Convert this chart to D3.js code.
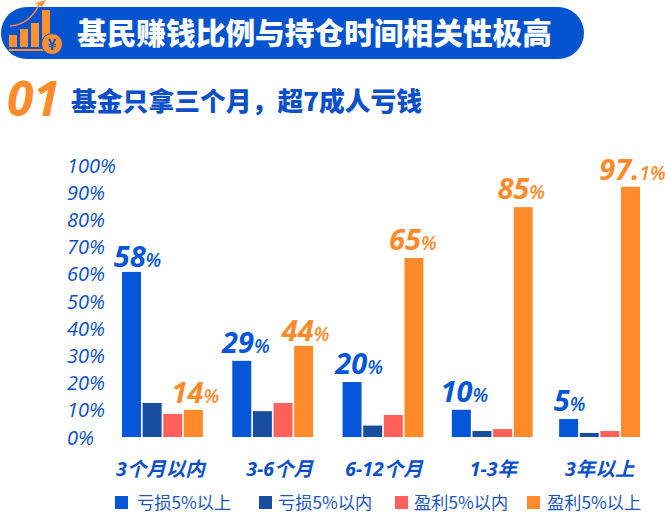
<!DOCTYPE html>
<html><head><meta charset="utf-8">
<script src="https://cdn.jsdelivr.net/npm/d3@7"></script>
<style>
html,body{margin:0;padding:0;background:#fff;overflow:hidden}
svg{display:block}
text{font-family:"Open Sans","Noto Sans CJK SC",sans-serif}
.cjk{font-family:"Noto Sans CJK SC",sans-serif}
</style></head><body><div id="c"></div>
<script>
const titleText = "基民赚钱比例与持仓时间相关性极高";
const subtitleNo = "01";
const subtitleText = "基金只拿三个月，超7成人亏钱";
const categories = ["3个月以内","3-6个月","6-12个月","1-3年","3年以上"];
const seriesNames = ["亏损5%以上","亏损5%以内","盈利5%以内","盈利5%以上"];
const loss5Plus  = [60.7,28,20.2,10,6.6];
const loss5Minus = [12.5,9.5,4.2,2.2,1.5];
const gain5Minus = [8.5,12.5,8.1,2.9,2.2];
const gain5Plus  = [10,33.5,65.8,84.5,92];
const blueLabels   = ["58","29","20","10","5"];
const orangeLabels = ["14","44","65","85","97.1"];
const yTicks = [0,10,20,30,40,50,60,70,80,90,100];

const seriesValues = [loss5Plus,loss5Minus,gain5Minus,gain5Plus];
const colors = ["#0556d8","#174ea0","#ff615a","#ff8a2a"];
const BLUE="#0b50c8", ORANGE="#ff8a2a";

const svg=d3.select("#c").append("svg").attr("width",665).attr("height",520);

// header banner
svg.append("rect").attr("x",1).attr("y",7).attr("width",583).attr("height",52).attr("rx",26).attr("fill","#0653cf");
const ic=svg.append("g");
[[9,35,12],[20,29,18],[31,23,24],[42,10,34]].forEach(([x,y,h])=>ic.append("rect").attr("x",x).attr("y",y).attr("width",8).attr("height",h).attr("fill","#ff9030"));
ic.append("rect").attr("x",9).attr("y",49).attr("width",35).attr("height",2).attr("fill","#ff9030");
ic.append("path").attr("d","M10 26 C25 25 34 16 40 3").attr("fill","none").attr("stroke","#ff9030").attr("stroke-width",1.5);
ic.append("path").attr("d","M35 3 L46 0 L42 7 Z").attr("fill","#ff9030");
ic.append("circle").attr("cx",52).attr("cy",44).attr("r",10.5).attr("fill","#ff9030").attr("stroke","#0653cf").attr("stroke-width",1);
ic.append("text").attr("class","cjk").attr("x",52).attr("y",50).attr("text-anchor","middle").attr("font-size",15).attr("font-weight",700).attr("fill","#0653cf").text("¥");
svg.append("text").attr("class","cjk").attr("x",77).attr("y",44).attr("font-size",29.7).attr("font-weight",900).attr("fill","#fff").text(titleText);

// sub-heading
svg.append("text").attr("x",7).attr("y",116).attr("font-size",48).attr("font-weight",700).attr("font-style","italic").attr("fill",ORANGE).text(subtitleNo);
svg.append("text").attr("class","cjk").attr("x",71).attr("y",111).attr("font-size",25.8).attr("font-weight",900).attr("fill",BLUE).text(subtitleText);

// scales
const y=d3.scaleLinear().domain([0,100]).range([437,165]);
const x0=d3.scaleBand().domain(categories).range([122,640]).paddingInner(0.26);
const x1=d3.scaleBand().domain(d3.range(4)).range([0,x0.bandwidth()]).paddingInner(0.08);
const groupShift=[0,1,2,2,0];

// y axis
const ya=svg.append("g").attr("transform","translate(67,0)").call(d3.axisLeft(y).tickValues(yTicks).tickSize(0).tickFormat(d=>d+"%"));
ya.select(".domain").remove();
ya.selectAll("text").attr("x",0).attr("dy","0.35em").attr("text-anchor","start").attr("font-size",20).attr("font-style","italic").attr("fill",BLUE).style("font-family",'"Open Sans",sans-serif');

// x axis
const xa=svg.append("g").attr("transform","translate(0,457)").call(d3.axisBottom(x0).tickSize(0));
xa.select(".domain").remove();
const tickShift=[-2,8,3,3,0];
xa.selectAll("text").attr("x",(d,i)=>tickShift[i]).attr("y",12).attr("dy","0.35em").attr("font-size",19.5).attr("font-weight",700).attr("font-style","italic").attr("fill",BLUE).style("font-family",'"Open Sans","Noto Sans CJK SC",sans-serif');

// bars
const rows=categories.flatMap((c,i)=>seriesValues.map((v,s)=>({c,i,s,v:v[i]})));
svg.append("g").selectAll("rect").data(rows).join("rect")
  .attr("x",d=>x0(d.c)+x1(d.s)+groupShift[d.i]).attr("width",x1.bandwidth())
  .attr("y",d=>y(d.v)).attr("height",d=>y(0)-y(d.v)).attr("fill",d=>colors[d.s]);

// value labels
const blueNudge=[[6,-5],[4,-8],[7,-8],[3,-8],[1,-8]];
const orangeNudge=[[2,-7],[2,-5],[-1,-8],[-2,-8],[2,-7]];
function addLabels(labels,vals,s,col,nudge){
  const g=svg.append("g");
  labels.forEach((t,i)=>{
    const parts=t.split(".");
    const cx=x0(categories[i])+x1(s)+x1.bandwidth()/2+groupShift[i]+nudge[i][0];
    const tx=g.append("text").attr("x",cx).attr("y",y(vals[i])+nudge[i][1]).attr("text-anchor","middle")
      .attr("font-style","italic").attr("fill",col);
    tx.append("tspan").attr("font-size",29).attr("font-weight",700).text(parts[0]+(parts[1]?".":""));
    tx.append("tspan").attr("font-size",19).attr("font-weight",600).text((parts[1]||"")+"%");
  });
}
addLabels(blueLabels,loss5Plus,0,"#0556d8",blueNudge);
addLabels(orangeLabels,gain5Plus,3,ORANGE,orangeNudge);

// legend
const lx=[115,259,395,527], ltx=[137,278,414,547];
const lg=svg.append("g");
seriesNames.forEach((n,i)=>{
  lg.append("rect").attr("x",lx[i]).attr("y",496).attr("width",13).attr("height",13).attr("fill",colors[i]);
  lg.append("text").attr("class","cjk").attr("x",ltx[i]).attr("y",509).attr("font-size",17.2).attr("fill","#1a55bf").text(n);
});
</script></body></html>
